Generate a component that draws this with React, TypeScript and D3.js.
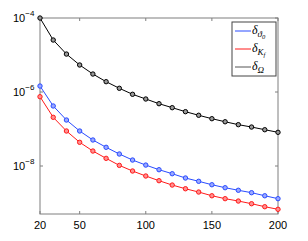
import React from "react";
import * as d3 from "d3";

const xs = [20, 30, 40, 50, 60, 70, 80, 90, 100, 110, 120, 130, 140, 150, 160, 170, 180, 190, 200];
const deltaTheta = [1.45e-6, 4.19e-7, 1.75e-7, 8.83e-8, 5.05e-8, 3.2e-8, 2.11e-8, 1.45e-8, 1.06e-8, 7.94e-9, 6.19e-9, 4.74e-9, 3.86e-9, 3.12e-9, 2.59e-9, 2.21e-9, 1.9e-9, 1.57e-9, 1.31e-9];
const deltaK = [7.46e-7, 2.07e-7, 8.83e-8, 4.37e-8, 2.54e-8, 1.61e-8, 1.04e-8, 7.33e-9, 5.37e-9, 4.01e-9, 3.06e-9, 2.43e-9, 1.98e-9, 1.57e-9, 1.31e-9, 1.13e-9, 9.57e-10, 7.94e-10, 6.76e-10];
const deltaOmega = [1e-4, 2.54e-5, 1.06e-5, 5.37e-6, 3.06e-6, 1.9e-6, 1.26e-6, 8.67e-7, 6.47e-7, 4.83e-7, 3.77e-7, 2.94e-7, 2.35e-7, 1.9e-7, 1.57e-7, 1.31e-7, 1.13e-7, 9.57e-8, 8.14e-8];
const xTicks = [20, 50, 100, 150, 200];
const yTicks = [1e-4, 1e-6, 1e-8];

const series = [
  { values: deltaTheta, color: "#2a4cff", fill: "#9aa8ff", sub: "ϑ", sub2: "0" },
  { values: deltaK, color: "#ff1a1a", fill: "#ff9090", sub: "K", sub2: "f" },
  { values: deltaOmega, color: "#000000", fill: "#999999", sub: "Ω", sub2: "" },
];

export default function App() {
  const L = 40, R = 278, T = 18, B = 214;
  const x = d3.scaleLinear().domain([20, 200]).range([L, R]);
  const y = d3.scaleLog().domain([Math.pow(10, -9.297), 1e-4]).range([B, T]);
  const line = d3.line<number>().x((_, i) => x(xs[i])).y((d) => y(d));
  const axisColor = "#7f7f7f";
  const legendX = 232, legendY = 22, legendW = 44, legendH = 54;
  return (
    <svg width={308} height={241} style={{ position: "absolute", left: 0, top: 0, background: "#fff" }}>
      <rect x={0} y={0} width={308} height={241} fill="#fff" />
      <rect x={L} y={T} width={R - L} height={B - T} fill="none" stroke={axisColor} strokeWidth={1} />
      {xTicks.map((t) => (
        <g key={"xt" + t}>
          <line x1={x(t)} x2={x(t)} y1={B} y2={B - 3} stroke={axisColor} />
          <line x1={x(t)} x2={x(t)} y1={T} y2={T + 3} stroke={axisColor} />
          <text x={x(t)} y={229} textAnchor="middle" fontFamily="Liberation Sans, Arial, sans-serif" fontSize={11} fill="#000">{t}</text>
        </g>
      ))}
      {yTicks.map((t) => {
        const e = Math.round(Math.log10(t));
        return (
          <g key={"yt" + e}>
            <line x1={L} x2={L + 3} y1={y(t)} y2={y(t)} stroke={axisColor} />
            <line x1={R} x2={R - 3} y1={y(t)} y2={y(t)} stroke={axisColor} />
            <text x={13} y={y(t) + 4} fontFamily="Liberation Sans, Arial, sans-serif" fontSize={11} fill="#000">
              10
              <tspan dy={-6} fontSize={8}>{"−" + Math.abs(e)}</tspan>
            </text>
          </g>
        );
      })}
      {series.map((s, si) => (
        <g key={"s" + si}>
          <path d={line(s.values) || ""} fill="none" stroke={s.color} strokeWidth={1} />
          {s.values.map((v, i) => (
            <circle key={i} cx={x(xs[i])} cy={y(v)} r={2.2} fill={s.fill} stroke={s.color} strokeWidth={1} />
          ))}
        </g>
      ))}
      <rect x={legendX} y={legendY} width={legendW} height={legendH} fill="#fff" stroke="#444" strokeWidth={1} />
      {series.map((s, si) => {
        const ly = 31 + si * 18;
        return (
          <g key={"lg" + si}>
            <line x1={235} x2={251} y1={ly} y2={ly} stroke={si === 2 ? "#555" : s.color} strokeWidth={1} />
            <text x={252} y={ly + 3} fontFamily="Liberation Serif, Times New Roman, serif" fontStyle="italic" fontSize={12} fill="#000">
              δ<tspan dy={3} fontSize={9}>{s.sub}</tspan>
              {s.sub2 ? <tspan dy={1.5} fontSize={6.5}>{s.sub2}</tspan> : null}
            </text>
          </g>
        );
      })}
    </svg>
  );
}
